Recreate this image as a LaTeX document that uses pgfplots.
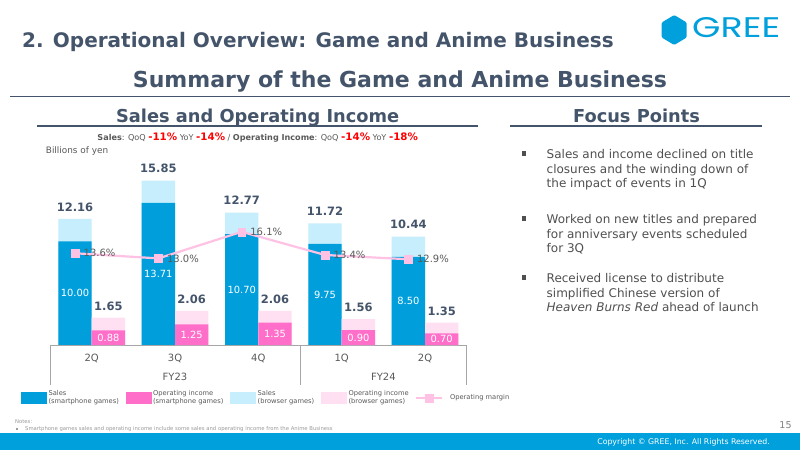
\documentclass[border=0pt]{standalone}
\usepackage{pgfplots}
\pgfplotsset{compat=1.18}
\usepackage{pgfplotstable}
\usepackage{fontspec}
\setmainfont{DejaVu Sans}
\newfontfamily\logofont{Poppins}

\definecolor{slate}{HTML}{44546A}
\definecolor{greeblue}{HTML}{00A0DC}
\definecolor{sBlue}{HTML}{009FDB}
\definecolor{sLightBlue}{HTML}{C7EEFC}
\definecolor{oPink}{HTML}{FF6FC9}
\definecolor{oLightPink}{HTML}{FFE0F2}
\definecolor{mPink}{HTML}{FFC2E4}
\definecolor{txtgray}{HTML}{595959}
\definecolor{bodygray}{HTML}{505050}
\definecolor{axisgray}{HTML}{A6A6A6}
\definecolor{notegray}{HTML}{9A9A9A}

\newcommand{\fs}[2]{\fontsize{#1bp}{#2bp}\selectfont}

% Sales (billions of yen): total and smartphone part
\pgfplotstableread{
x total smart
0 12.16 10.00
1 15.85 13.71
2 12.77 10.70
3 11.72 9.75
4 10.44 8.50
}\salesdata
% Operating income (billions of yen): total and smartphone part
\pgfplotstableread{
x total smart
0 1.65 0.88
1 2.06 1.25
2 2.06 1.35
3 1.56 0.90
4 1.35 0.70
}\opdata
% Operating margin (%)
\pgfplotstableread{
x margin
0 13.6
1 13.0
2 16.1
3 13.4
4 12.9
}\margindata

\pgfplotsset{
  slide axis/.style={
    scale only axis, width=416.7bp, height=187bp,
    at={(50bp,-345bp)}, anchor=south west,
    xmin=-0.5, xmax=4.5, ymin=0,
    hide axis, clip=false,
  },
  swatch legend/.style={legend image code/.code={\fill[##1] (0bp,-5.8bp) rectangle (26bp,5.8bp);}},
  margin legend/.style={legend image code/.code={%
    \path (0bp,0bp) (31bp,0bp);
    \draw[##1, mark repeat=2, mark phase=2] plot coordinates {(0bp,0bp) (13bp,0bp) (26bp,0bp)};}},
  total label/.style={draw=none, nodes near coords, point meta=explicit symbolic,
    nodes near coords style={font=\bfseries\fs{11.5}{12}, text=slate, anchor=center, yshift=#1}},
  inner label/.style={draw=none, nodes near coords, point meta=explicit symbolic,
    nodes near coords style={font=\fs{9.9}{10}, text=white, anchor=center}},
}

\begin{document}
\begin{tikzpicture}[x=1bp, y=-1bp]
\path[use as bounding box] (0,0) rectangle (800,450);
\fill[white] (0,0) rectangle (800,450);

% ---------- header ----------
\node[anchor=base west, inner sep=0pt, text=slate, font=\bfseries\fs{20}{24}] at (22,48)
  {2. Operational Overview: Game and Anime Business};
\fill[greeblue, rounded corners=1.2bp] (674.2,15) -- (686.7,22.5) -- (686.7,37.5) -- (674.2,45)
  -- (661.7,37.5) -- (661.7,22.5) -- cycle;
\node[anchor=south west, inner sep=0pt, text=greeblue] at (692,38.3)
  {\resizebox{88bp}{20bp}{\logofont GREE}};
\node[anchor=base, inner sep=0pt, text=slate, font=\bfseries\fs{22}{26}] at (400,87.3)
  {Summary of the Game and Anime Business};
\draw[slate, line width=1.3bp] (10,96.5) -- (790,96.5);

% ---------- section titles ----------
\node[anchor=base, inner sep=0pt, text=slate, font=\bfseries\fs{17.8}{20}] at (257.7,122.5)
  {Sales and Operating Income};
\draw[slate, line width=1.2bp] (37.3,126) -- (478.3,126);
\node[anchor=base, inner sep=0pt, text=slate, font=\bfseries\fs{17.8}{20}] at (636.5,122.5)
  {Focus Points};
\draw[slate, line width=1.2bp] (510,126) -- (762,126);

\node[anchor=base, inner sep=0pt, text=txtgray, font=\fs{8.1}{9}] at (257.7,140.6)
  {\textbf{Sales}: QoQ {\color{red}\bfseries\fs{10.3}{11}-11\%} YoY {\color{red}\bfseries\fs{10.3}{11}-14\%}
   / \textbf{Operating Income}: QoQ {\color{red}\bfseries\fs{10.3}{11}-14\%} YoY {\color{red}\bfseries\fs{10.3}{11}-18\%}};
\node[anchor=base west, inner sep=0pt, text=txtgray, font=\fs{8.9}{10}] at (45.7,153.3) {Billions of yen};

% ---------- focus points ----------
\foreach \yy in {153.5,218.5,277.5} {\fill[bodygray] (521.8,\yy-2.1) rectangle (526,\yy+2.1);}
% the base of a three-line node is its last line
\node[anchor=base west, inner sep=0pt, text=bodygray, font=\fs{12}{14.5}, align=left] at (546.5,187.6)
  {Sales and income declined on title\\closures and the winding down of\\the impact of events in 1Q};
\node[anchor=base west, inner sep=0pt, text=bodygray, font=\fs{12}{14.5}, align=left] at (546.5,252.6)
  {Worked on new titles and prepared\\for anniversary events scheduled\\for 3Q};
\node[anchor=base west, inner sep=0pt, text=bodygray, font=\fs{12}{14.5}, align=left] at (546.5,311.6)
  {Received license to distribute\\simplified Chinese version of\\\textit{Heaven Burns Red} ahead of launch};

% ---------- sales ----------
\begin{axis}[slide axis, ymax=18.03,
  legend style={at={(-0.0696,-0.2406)}, anchor=north west, legend columns=5,
    draw=none, fill=none, font=\fs{6.7}{8}, text=txtgray,
    cells={align=left, anchor=west}, inner sep=0pt, outer sep=0pt,
    nodes={inner sep=0.6bp},
    /tikz/every odd column/.append style={column sep=1bp},
    /tikz/every even column/.append style={column sep=6bp}},
]
\addlegendimage{swatch legend, fill=sBlue, draw=none}
\addlegendentry{Sales\\(smartphone games)}
\addlegendimage{swatch legend, fill=oPink, draw=none}
\addlegendentry{Operating income\\(smartphone games)}
\addlegendimage{swatch legend, fill=sLightBlue, draw=none}
\addlegendentry{Sales\\(browser games)}
\addlegendimage{swatch legend, fill=oLightPink, draw=none}
\addlegendentry{Operating income\\(browser games)}
\addlegendimage{margin legend, mPink, line width=2.2bp, mark=square*, mark size=3.9bp,
  mark options={fill=mPink, draw=mPink, line width=0.4bp}}
\addlegendentry{Operating margin}

\addplot[forget plot, ybar, bar width=0.4, bar shift=-0.2, fill=sLightBlue, draw=none]
  table[x=x, y=total] {\salesdata};
\addplot[forget plot, ybar, bar width=0.4, bar shift=-0.2, fill=sBlue, draw=none]
  table[x=x, y=smart] {\salesdata};
\addplot[forget plot, total label=12bp]
  table[x expr=\thisrow{x}-0.2, y=total, meta=total] {\salesdata};
\addplot[forget plot, inner label]
  table[x expr=\thisrow{x}-0.2, y expr=\thisrow{smart}/2, meta=smart] {\salesdata};

% category axis
\draw[axisgray, line width=1bp] (axis cs:-0.5,0) -- (axis cs:4.5,0);
\draw[axisgray, line width=1bp] (axis cs:-0.5,0) -- ++(0bp,-40bp);
\draw[axisgray, line width=1bp] (axis cs:2.5,0) -- ++(0bp,-40bp);
\draw[axisgray, line width=1bp] (axis cs:4.5,0) -- ++(0bp,-40bp);
\node[text=txtgray, font=\fs{10}{12}, yshift=-13.3bp] at (axis cs:0,0) {2Q};
\node[text=txtgray, font=\fs{10}{12}, yshift=-13.3bp] at (axis cs:1,0) {3Q};
\node[text=txtgray, font=\fs{10}{12}, yshift=-13.3bp] at (axis cs:2,0) {4Q};
\node[text=txtgray, font=\fs{10}{12}, yshift=-13.3bp] at (axis cs:3,0) {1Q};
\node[text=txtgray, font=\fs{10}{12}, yshift=-13.3bp] at (axis cs:4,0) {2Q};
\node[text=txtgray, font=\fs{10}{12}, yshift=-31.7bp] at (axis cs:1,0) {FY23};
\node[text=txtgray, font=\fs{10}{12}, yshift=-31.7bp] at (axis cs:3.5,0) {FY24};
\end{axis}

% ---------- operating income ----------
\begin{axis}[slide axis, ymax=11.27]
\addplot[forget plot, ybar, bar width=0.4, bar shift=0.2, fill=oLightPink, draw=none]
  table[x=x, y=total] {\opdata};
\addplot[forget plot, ybar, bar width=0.4, bar shift=0.2, fill=oPink, draw=none]
  table[x=x, y=smart] {\opdata};
\addplot[forget plot, total label=11.5bp]
  table[x expr=\thisrow{x}+0.2, y=total, meta=total] {\opdata};
\addplot[forget plot, inner label]
  table[x expr=\thisrow{x}+0.2, y expr=\thisrow{smart}/2, meta=smart] {\opdata};
\end{axis}

% ---------- operating margin ----------
\begin{axis}[slide axis, ymin=2.91, ymax=24.7, /pgf/number format/assume math mode=true]
\addplot[forget plot, mPink, line width=2.2bp, mark=square*, mark size=3.9bp,
  mark options={fill=mPink, draw=mPink, line width=0.4bp},
  nodes near coords={\pgfmathprintnumber[fixed, precision=1, fixed zerofill, assume math mode=true]{\pgfplotspointmeta}\%},
  point meta=y,
  nodes near coords style={font=\fs{10}{12}, text=txtgray, anchor=west, inner sep=0pt, xshift=8.5bp}]
  table[x expr=\thisrow{x}-0.2, y=margin] {\margindata};
\end{axis}

% ---------- notes and footer ----------
\node[anchor=base west, inner sep=0pt, text=notegray, font=\fs{5.3}{6}] at (15,423.5) {Notes:};
\fill[notegray] (15.8,427.8) rectangle (17.6,429.6);
\node[anchor=base west, inner sep=0pt, text=notegray, font=\fs{5.3}{6}] at (25,430.5)
  {Smartphone games sales and operating income include some sales and operating income from the Anime Business};
\node[anchor=center, inner sep=0pt, text=gray, font=\fs{9.5}{11}] at (785.5,425) {15};
\fill[greeblue] (0,433.3) rectangle (800,450);
\node[anchor=base east, inner sep=0pt, text=white, font=\fs{7.8}{9}] at (770,444.5)
  {Copyright \textcopyright{} GREE, Inc. All Rights Reserved.};
\end{tikzpicture}
\end{document}
